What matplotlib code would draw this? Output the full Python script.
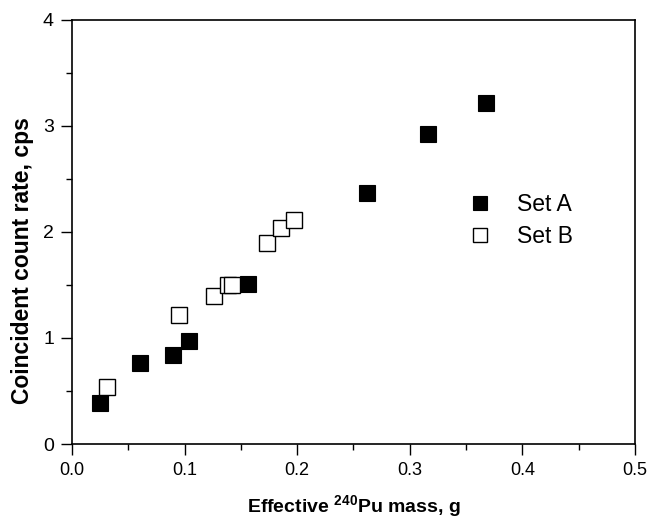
import numpy as np
import matplotlib
matplotlib.use("Agg")
import matplotlib.pyplot as plt
from matplotlib.ticker import MultipleLocator, FormatStrFormatter

plt.rcParams['font.family'] = ['Liberation Sans', 'DejaVu Sans']
plt.rcParams['mathtext.fontset'] = 'custom'
plt.rcParams['mathtext.rm'] = 'Liberation Sans'
plt.rcParams['mathtext.bf'] = 'Liberation Sans:bold'

# Set A (filled squares)
massA = [0.025, 0.060, 0.090, 0.104, 0.156, 0.262, 0.316, 0.368]
rateA = [0.39, 0.76, 0.84, 0.97, 1.51, 2.37, 2.92, 3.22]
# Set B (open squares)
massB = [0.031, 0.095, 0.126, 0.139, 0.142, 0.173, 0.186, 0.197]
rateB = [0.54, 1.22, 1.40, 1.50, 1.50, 1.90, 2.04, 2.11]

fig = plt.figure(figsize=(6.54, 5.19), dpi=100)
ax = fig.add_axes([0.110, 0.1445, 0.861, 0.817])

ax.plot(massA, rateA, ls='none', marker='s', ms=11.5, mfc='black', mec='black',
        mew=0.8, label='Set A')
ax.plot(massB, rateB, ls='none', marker='s', ms=11.5, mfc='white', mec='black',
        mew=1.0, label='Set B')

ax.set_xlim(0, 0.5)
ax.set_ylim(0, 4)
ax.xaxis.set_major_locator(MultipleLocator(0.1))
ax.xaxis.set_minor_locator(MultipleLocator(0.05))
ax.xaxis.set_major_formatter(FormatStrFormatter('%.1f'))
ax.yaxis.set_major_locator(MultipleLocator(1))
ax.yaxis.set_minor_locator(MultipleLocator(0.5))
ax.tick_params(which='major', direction='out', length=8, width=1, labelsize=13, pad=5)
ax.tick_params(axis='y', labelsize=14)
ax.tick_params(which='minor', direction='out', length=4, width=1)
for s in ax.spines.values():
    s.set_linewidth(1.2)

ax.set_xlabel(r'Effective $^{\mathbf{240}}$Pu mass, g', fontsize=14,
              fontweight='bold', labelpad=10)
ax.set_ylabel('Coincident count rate, cps', fontsize=16.5, fontweight='bold')
ax.yaxis.set_label_coords(-0.068, 0.432)

ax.legend(loc='upper left', bbox_to_anchor=(0.705, 0.593), frameon=False,
          fontsize=16.5, handlelength=1.0, handletextpad=1.1, labelspacing=0.43,
          borderpad=0, borderaxespad=0, markerscale=0.88)

fig.savefig('out.png', dpi=100)
